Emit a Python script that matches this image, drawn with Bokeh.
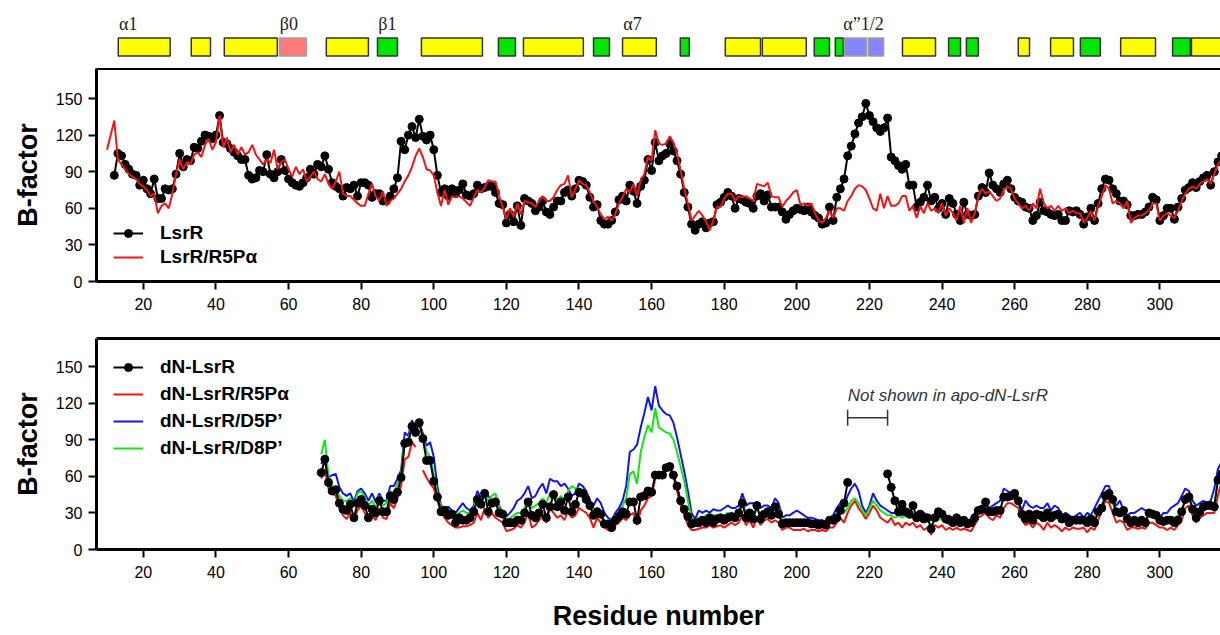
from bokeh.plotting import figure
from bokeh.models import Range1d, LinearAxis, FixedTicker, Legend, LegendItem
from bokeh.layouts import column
from bokeh.embed import file_html
from bokeh.resources import INLINE
from bokeh.core.properties import value

NaN = float("nan")

# ---------------- data ----------------
# top panel: full-length LsrR
lsrr_first = 12
lsrr = [
    87, 105, 103, 96, 92, 88, 87, 79,                      # 12-19
    83, 76, 72, 84, 68, 68, 76, 75, 76, 88,               # 20-29
    105, 94, 100, 99, 110, 109, 115, 120, 119, 117,       # 30-39
    120, 136, 114, 113, 109, 106, 103, 100, 100, 87,      # 40-49
    84, 85, 91, 90, 104, 88, 85, 90, 100, 91,             # 50-59
    84, 81, 79, 78, 81, 85, 92, 88, 96, 94,               # 60-69
    103, 92, 81, 78, 76, 70, 77, 76, 79, 70,              # 70-79
    81, 81, 79, 69, 72, 72, 66, 66, 70, 76,               # 80-89
    85, 115, 108, 120, 127, 118, 133, 119, 116, 120,      # 90-99
    108, 87, 73, 76, 70, 76, 72, 75, 80, 71,              # 100-109
    70, 72, 79, 76, 77, 78, 78, 73, 64, 63,               # 110-119
    48, 55, 49, 62, 46, 68, 66, 64, 58, 61,               # 120-129
    66, 57, 55, 61, 66, 66, 73, 75, 70, 76,               # 130-139
    83, 82, 79, 69, 61, 63, 50, 47, 47, 50,               # 140-149
    57, 67, 70, 66, 79, 74, 64, 78, 83, 100,              # 150-159
    91, 114, 99, 103, 105, 113, 107, 99, 88, 73,          # 160-169
    61, 47, 42, 47, 49, 44, 48, 49, 63, 65,               # 170-179
    69, 73, 70, 60, 68, 67, 65, 64, 60, 70,               # 180-189
    72, 66, 71, 61, 61, 61, 57, 51, 55, 58,               # 190-199
    60, 59, 58, 61, 57, 54, 52, 47, 48, 61,               # 200-209
    50, 69, 76, 84, 103, 111, 121, 130, 135, 146,         # 210-219
    136, 131, 126, 123, 126, 134, 102, 99, 95, 92,        # 220-229
    96, 79, 79, 61, 65, 69, 79, 66, 69, 60,               # 230-239
    64, 55, 68, 64, 55, 50, 65, 55, 54, 55,               # 240-249
    70, 77, 73, 89, 79, 76, 73, 80, 83, 76,               # 250-259
    69, 66, 65, 61, 60, 50, 54, 65, 58, 57,               # 260-269
    55, 54, 55, 50, 50, 58, 57, 58, 55, 47,               # 270-279
    53, 60, 50, 64, 76, 84, 83, 76, 72, 66,               # 280-289
    66, 63, 54, 54, 55, 55, 57, 61, 69, 67,               # 290-299
    50, 54, 60, 60, 51, 61, 68, 75, 77, 81,               # 300-309
    77, 82, 85, 87, 79, 90, 98, 103,                      # 310-317
]

lsrr_r5p_first = 10
lsrr_r5p = [
    108, 120, 132, 100, 96, 92, 88, 86, 84, 80,           # 10-19
    78, 75, 70, 72, 56, 62, 64, 60, 72, 88,               # 20-29
    100, 92, 98, 96, 104, 106, 102, 112, 117, 108,        # 30-39
    114, 136, 110, 118, 106, 112, 104, 110, 104, 106,     # 40-49
    112, 104, 100, 96, 100, 97, 108, 92, 98, 100,         # 50-59
    92, 86, 94, 88, 92, 82, 86, 90, 84, 82,               # 60-69
    88, 80, 76, 82, 90, 72, 70, 70, 67, 64,               # 70-79
    62, 62, 72, 80, 70, 66, 74, 62, 66, 68,               # 80-89
    72, 76, 82, 87, 94, 103, 109, 102, 92, 91,            # 90-99
    87, 73, 62, 75, 63, 70, 69, 70, 68, 65,               # 100-109
    62, 69, 75, 73, 77, 83, 82, 82, 70, 61,               # 110-119
    51, 60, 53, 64, 55, 66, 65, 64, 61, 66,               # 120-129
    70, 66, 66, 69, 75, 79, 80, 87, 69, 76,               # 130-139
    83, 80, 79, 73, 66, 61, 55, 51, 53, 50,               # 140-149
    55, 64, 69, 76, 73, 80, 70, 83, 88, 102,              # 150-159
    99, 124, 113, 112, 113, 119, 114, 105, 91, 76,        # 160-169
    64, 50, 54, 58, 54, 49, 42, 50, 61, 61,               # 170-179
    68, 72, 72, 66, 70, 69, 70, 68, 66, 80,               # 180-189
    79, 78, 81, 70, 69, 69, 61, 66, 69, 73,               # 190-199
    75, 63, 64, 62, 64, 56, 50, 48, 52, 58,               # 200-209
    52, 60, 60, 58, 66, 70, 76, 79, 78, 75,               # 210-219
    68, 60, 58, 72, 60, 70, 62, 62, 64, 70,               # 220-229
    70, 58, 62, 52, 62, 56, 64, 58, 60, 56,               # 230-239
    64, 54, 60, 56, 50, 62, 48, 60, 48, 56,               # 240-249
    70, 76, 72, 74, 70, 66, 68, 75, 78, 76,               # 250-259
    68, 64, 60, 62, 58, 64, 60, 76, 64, 60,               # 260-269
    62, 58, 62, 58, 60, 56, 58, 56, 56, 48,               # 270-279
    52, 58, 50, 62, 70, 79, 76, 64, 66, 64,               # 280-289
    60, 66, 48, 52, 54, 54, 56, 58, 64, 64,               # 290-299
    50, 54, 56, 54, 52, 58, 66, 72, 76, 78,               # 300-309
    76, 80, 82, 84, 80, 88, 96, 100,                      # 310-317
]

# bottom panel: N-terminally truncated LsrR (all series start at residue 69)
dn_first = 69
dn_lsrr = [
    63,                                                   # 69
    74, 55, 48, 49, 38, 33, 32, 37, 26, 38,               # 70-79
    41, 36, 26, 33, 30, 40, 31, 31, 44, 41,               # 80-89
    47, 59, 87, 88, 101, 96, 104, 91, 73, 73,             # 90-99
    56, 43, 31, 32, 28, 29, 22, 26, 24, 24,               # 100-109
    26, 31, 41, 37, 46, 31, 38, 39, 30, 29,               # 110-119
    22, 22, 22, 24, 24, 30, 39, 28, 26, 30,               # 120-129
    37, 26, 35, 45, 35, 39, 32, 43, 31, 37,               # 130-139
    47, 46, 41, 36, 28, 31, 29, 21, 21, 18,               # 140-149
    24, 27, 31, 29, 39, 39, 24, 43, 44, 48,               # 150-159
    47, 61, 61, 61, 67, 68, 61, 52, 40, 33,               # 160-169
    27, 21, 22, 22, 24, 22, 26, 22, 25, 26,               # 170-179
    24, 26, 27, 26, 30, 38, 26, 30, 25, 36,               # 180-189
    25, 29, 31, 28, 35, 29, 21, 22, 22, 22,               # 190-199
    22, 22, 22, 22, 21, 21, 20, 21, 20, 24,               # 200-209
    24, 26, 32, 38, 55, NaN, NaN, NaN, NaN, NaN,          # 210-219
    NaN, NaN, NaN, NaN, NaN, 62, 51, 40, 31, 37,          # 220-229
    31, 29, 36, 26, 29, 25, 26, 17, 26, 31,               # 230-239
    29, 25, 24, 22, 26, 22, 24, 21, 22, 26,               # 240-249
    32, 33, 39, 31, 31, 32, 32, 43, 43, 44,               # 250-259
    46, 40, 29, 25, 29, 24, 29, 28, 26, 30,               # 260-269
    26, 28, 29, 25, 26, 22, 24, 24, 24, 24,               # 270-279
    22, 25, 22, 31, 34, 44, 46, 41, 31, 30,               # 280-289
    32, 25, 22, 24, 22, 24, 22, 30, 29, 28,               # 290-299
    24, 23, 24, 24, 22, 24, 31, 41, 43, 33,               # 300-309
    26, 31, 35, 36, 36, 35, 57, 62,                       # 310-317
]

dn_r5p = [
    58,                                                   # 69
    66, 50, 46, 44, 34, 28, 25, 30, 24, 32,               # 70-79
    36, 30, 24, 28, 24, 34, 26, 25, 38, 34,               # 80-89
    42, 52, 74, 76, 88, 84, NaN, 65, 59, 54,              # 90-99
    50, 40, 30, 26, 22, 20, 18, 18, 19, 19,               # 100-109
    20, 22, 30, 24, 34, 26, 30, 26, 24, 22,               # 110-119
    15, 16, 17, 20, 18, 22, 30, 18, 20, 24,               # 120-129
    28, 22, 34, 30, 26, 28, 24, 32, 26, 28,               # 130-139
    34, 32, 30, 26, 18, 26, 22, 18, 16, 15,               # 140-149
    20, 22, 26, 24, 28, 30, 20, 32, 36, 42,               # 150-159
    44, 58, 60, 58, 66, 66, 60, 48, 36, 28,               # 160-169
    20, 16, 16, 17, 18, 18, 20, 18, 19, 20,               # 170-179
    18, 20, 22, 20, 22, 28, 20, 24, 18, 26,               # 180-189
    20, 24, 25, 22, 24, 22, 16, 18, 18, 16,               # 190-199
    16, 16, 17, 15, 16, 16, 15, 16, 15, 18,               # 200-209
    18, 22, 26, 22, 30, 36, 40, 34, 30, 25,               # 210-219
    30, 36, 32, 26, 24, 22, 26, 20, 22, 18,               # 220-229
    22, 20, 22, 18, 20, 16, 18, 12, 20, 18,               # 230-239
    20, 16, 18, 16, 18, 16, 17, 16, 15, 20,               # 240-249
    26, 28, 30, 26, 24, 28, 26, 34, 38, 38,               # 250-259
    36, 34, 24, 20, 22, 18, 22, 20, 16, 22,               # 260-269
    18, 20, 18, 15, 18, 16, 18, 17, 17, 18,               # 270-279
    14, 18, 16, 24, 32, 40, 38, 30, 22, 24,               # 280-289
    22, 16, 18, 18, 17, 18, 17, 22, 22, 20,               # 290-299
    18, 18, 16, 18, 16, 20, 24, 34, 36, 28,               # 300-309
    22, 26, 28, 30, 30, 30, 44, 56,                       # 310-317
]

dn_d5p = [
    70,                                                   # 69
    76, 59, 61, 62, 51, 46, 44, 46, 39, 48,               # 70-79
    50, 46, 40, 46, 39, 46, 40, 40, 52, 52,               # 80-89
    58, 65, 96, 93, 106, 98, 104, 95, 85, 88,             # 90-99
    76, 52, 36, 34, 35, 32, 30, 34, 38, 34,               # 100-109
    32, 36, 48, 42, 48, 44, 40, 42, 36, 30,               # 110-119
    27, 30, 34, 40, 42, 46, 52, 42, 44, 50,               # 120-129
    54, 46, 58, 56, 56, 52, 54, 50, 44, 46,               # 130-139
    54, 52, 48, 40, 36, 42, 38, 30, 26, 24,               # 140-149
    30, 34, 40, 52, 80, 82, 86, 100, 112, 125,            # 150-159
    114, 134, 118, 114, 111, 110, 104, 92, 78, 64,        # 160-169
    48, 30, 25, 32, 30, 32, 30, 33, 32, 32,               # 170-179
    34, 36, 34, 34, 36, 46, 36, 38, 38, 36,               # 180-189
    34, 36, 36, 34, 42, 38, 26, 28, 28, 30,               # 190-199
    32, 30, 28, 26, 26, 25, 24, 24, 22, 26,               # 200-209
    28, 34, 38, 36, 44, 50, 54, 48, 36, 30,               # 210-219
    36, 46, 40, 36, 34, 32, 30, 30, 32, 28,               # 220-229
    32, 30, 28, 30, 26, 30, 28, 26, 28, 30,               # 230-239
    30, 26, 28, 24, 28, 26, 24, 24, 22, 30,               # 240-249
    34, 36, 38, 34, 36, 38, 40, 50, 48, 46,               # 250-259
    48, 40, 32, 40, 36, 34, 36, 34, 34, 38,               # 260-269
    32, 36, 34, 28, 30, 28, 26, 28, 30, 26,               # 270-279
    30, 28, 34, 40, 46, 52, 52, 40, 36, 40,               # 280-289
    32, 28, 30, 30, 32, 34, 32, 30, 30, 28,               # 290-299
    26, 30, 30, 34, 36, 38, 44, 50, 48, 40,               # 300-309
    36, 38, 40, 38, 40, 50, 66, 72,                       # 310-317
]

dn_d8p = [
    78,                                                   # 69
    90, 60, 52, 50, 44, 40, 40, 42, 36, 46,               # 70-79
    48, 42, 36, 40, 34, 44, 36, 38, 48, 46,               # 80-89
    54, 62, 90, 90, 102, 96, 104, 92, 80, 76,             # 90-99
    62, 46, 34, 30, 32, 30, 28, 30, 32, 30,               # 100-109
    30, 34, 44, 40, 46, 40, 44, 46, 34, 32,               # 110-119
    24, 26, 28, 30, 30, 34, 42, 34, 36, 38,               # 120-129
    42, 38, 46, 48, 40, 44, 40, 48, 52, 50,               # 130-139
    50, 46, 40, 34, 30, 34, 30, 24, 22, 20,               # 140-149
    28, 30, 36, 42, 62, 64, 54, 80, 92, 102,              # 150-159
    96, 116, 100, 98, 96, 95, 90, 80, 68, 56,             # 160-169
    40, 26, 24, 26, 26, 28, 26, 28, 28, 26,               # 170-179
    28, 30, 28, 28, 30, 40, 30, 32, 28, 34,               # 180-189
    28, 30, 32, 30, 36, 32, 24, 24, 24, 24,               # 190-199
    24, 24, 23, 22, 22, 22, 22, 22, 21, 22,               # 200-209
    24, 28, 32, 30, 34, 40, 42, 38, 32, 28,               # 210-219
    34, 40, 36, 32, 30, 28, 28, 26, 28, 26,               # 220-229
    28, 26, 26, 26, 24, 26, 24, 20, 24, 24,               # 230-239
    26, 22, 24, 22, 24, 22, 22, 22, 20, 26,               # 240-249
    30, 32, 36, 30, 32, 32, 34, 42, 44, 42,               # 250-259
    42, 38, 28, 26, 28, 24, 28, 26, 24, 28,               # 260-269
    26, 28, 26, 24, 26, 22, 24, 24, 24, 24,               # 270-279
    22, 24, 24, 30, 36, 46, 44, 38, 30, 30,               # 280-289
    28, 24, 24, 24, 24, 24, 24, 28, 28, 26,               # 290-299
    24, 24, 24, 26, 26, 28, 32, 42, 44, 36,               # 300-309
    30, 34, 36, 38, 38, 38, 58, 66,                       # 310-317
]

# secondary-structure elements (residue spans) and their kind
ss_start = [13.1, 33.2, 42.3, 57.5, 70.4, 84.5, 96.6, 117.8, 124.7, 144.0,
            152.0, 167.9, 180.3, 190.5, 204.8, 210.6, 213.1, 219.7, 229.1,
            241.8, 246.7, 261.0, 269.9, 278.1, 289.2, 303.5, 308.7]
ss_end = [27.4, 38.5, 56.9, 64.9, 82.0, 90.0, 113.4, 122.5, 141.2, 148.4,
          161.3, 170.4, 190.0, 202.6, 209.0, 212.8, 219.2, 223.9, 238.2,
          245.1, 250.0, 264.1, 276.2, 283.6, 298.8, 308.4, 322.0]
ss_kind = ["helix", "helix", "helix", "beta0", "helix", "strand", "helix",
           "strand", "helix", "strand", "helix", "strand", "helix", "helix",
           "strand", "strand", "alt", "alt", "helix", "strand", "strand",
           "helix", "helix", "strand", "helix", "strand", "helix"]
ss_labels = ["\u03b11", "\u03b20", "\u03b21", "\u03b17", "\u03b1\u201d1/2"]
ss_label_at = [13.3, 57.6, 84.7, 152.2, 212.8]

x_ticks = [20, 40, 60, 80, 100, 120, 140, 160, 180, 200, 220, 240, 260, 280, 300]
y_ticks = [0, 30, 60, 90, 120, 150]

# ---------------- styling ----------------
FILL = {"helix": "#ffff00", "strand": "#00e600", "beta0": "#ff7b7b", "alt": "#8585ff"}
EDGE = {"helix": "#333333", "strand": "#333333", "beta0": "#a0a0a0", "alt": "#a0a0a0"}
SANS = "Liberation Sans"
C_BLACK, C_RED, C_BLUE, C_GREEN = "#000000", "#f01414", "#1414f0", "#14e614"

X0, X1 = 7.1, 316.7
xr = Range1d(X0, X1)
FRAME_W = 1124
LEFT = 96


def res(first, vals):
    return list(range(first, first + len(vals)))


# ---- secondary structure strip ----
ss = figure(frame_width=FRAME_W, frame_height=68, x_range=xr, y_range=Range1d(0, 68),
            min_border_left=LEFT, min_border_right=0, min_border_top=0, min_border_bottom=0,
            x_axis_location=None, y_axis_location=None, outline_line_color=None,
            output_backend="svg", toolbar_location=None)
ss.grid.visible = False
ss.quad(left=ss_start, right=ss_end, bottom=12.5, top=30.5,
        fill_color=[FILL[k] for k in ss_kind], line_color=[EDGE[k] for k in ss_kind],
        line_width=1.5)
ss.text(x=ss_label_at, y=[45] * len(ss_labels), text=ss_labels,
        text_font=value("Liberation Serif"), text_font_size="18px",
        text_baseline="alphabetic", text_align="left", text_color="#222222")


def style_panel(p, xlabel=None):
    p.grid.visible = False
    p.xaxis.ticker = FixedTicker(ticks=x_ticks)
    p.yaxis.ticker = FixedTicker(ticks=y_ticks)
    for ax in (p.xaxis[0], p.yaxis[0]):
        ax.axis_line_width = 3
        ax.axis_line_color = "black"
        ax.major_tick_out = 8
        ax.major_tick_in = 0
        ax.major_tick_line_width = 2
        ax.minor_tick_line_color = None
        ax.major_label_text_font = SANS
        ax.major_label_text_font_size = "16px"
        ax.major_label_text_color = "black"
        ax.major_label_standoff = 6
    p.yaxis.axis_label = "B-factor"
    p.yaxis.axis_label_text_font = SANS
    p.yaxis.axis_label_text_font_style = "bold"
    p.yaxis.axis_label_text_font_size = "27px"
    p.yaxis.axis_label_text_color = "black"
    p.yaxis.axis_label_standoff = 10
    p.xaxis.major_label_standoff = 8
    if xlabel:
        p.xaxis.axis_label = xlabel
        p.xaxis.axis_label_text_font = SANS
        p.xaxis.axis_label_text_font_style = "bold"
        p.xaxis.axis_label_text_font_size = "27px"
        p.xaxis.axis_label_text_color = "black"
        p.xaxis.axis_label_standoff = 20
    top = LinearAxis(ticker=FixedTicker(ticks=[]), major_label_text_font_size="0px",
                     major_tick_out=0, major_tick_in=0, minor_tick_out=0, minor_tick_in=0,
                     major_label_standoff=0, axis_line_width=3)
    p.add_layout(top, "above")


def make_legend(p, items, loc, spacing):
    lg = Legend(items=items, location=loc, glyph_width=30, glyph_height=20,
                label_height=20, label_standoff=17, spacing=spacing, padding=0, margin=0,
                border_line_color=None, background_fill_alpha=0,
                label_text_font=SANS, label_text_font_style="bold",
                label_text_font_size="19px", label_text_baseline="middle",
                label_text_color="black")
    p.add_layout(lg, "center")


# ---- top panel ----
p1 = figure(frame_width=FRAME_W, frame_height=213, x_range=xr, y_range=Range1d(0, 174.6),
            min_border_left=LEFT, min_border_right=0, min_border_top=0, min_border_bottom=41,
            outline_line_color=None, output_backend="svg", toolbar_location=None)
style_panel(p1)
xa = res(lsrr_first, lsrr)
b_line = p1.line(xa, lsrr, line_color=C_BLACK, line_width=2)
b_dots = p1.scatter(xa, lsrr, size=8, marker="circle", fill_color=C_BLACK, line_color=C_BLACK)
r_line = p1.line(res(lsrr_r5p_first, lsrr_r5p), lsrr_r5p, line_color=C_RED, line_width=2)
make_legend(p1, [LegendItem(label="LsrR", renderers=[b_line, b_dots]),
                 LegendItem(label="LsrR/R5P\u03b1", renderers=[r_line])], (17, 13), 2)

# ---- bottom panel ----
p2 = figure(frame_width=FRAME_W, frame_height=211, x_range=xr, y_range=Range1d(0, 173),
            min_border_left=LEFT, min_border_right=0, min_border_top=16, min_border_bottom=84,
            outline_line_color=None, output_backend="svg", toolbar_location=None)
style_panel(p2, "Residue number")
xb = res(dn_first, dn_lsrr)
l_red = p2.line(res(dn_first, dn_r5p), dn_r5p, line_color=C_RED, line_width=2)
l_blue = p2.line(res(dn_first, dn_d5p), dn_d5p, line_color=C_BLUE, line_width=2)
l_green = p2.line(res(dn_first, dn_d8p), dn_d8p, line_color=C_GREEN, line_width=2)
l_black = p2.line(xb, dn_lsrr, line_color=C_BLACK, line_width=2)
d_black = p2.scatter(xb, dn_lsrr, size=8, marker="circle", fill_color=C_BLACK, line_color=C_BLACK)
make_legend(p2, [LegendItem(label="dN-LsrR", renderers=[l_black, d_black]),
                 LegendItem(label="dN-LsrR/R5P\u03b1", renderers=[l_red]),
                 LegendItem(label="dN-LsrR/D5P\u2019", renderers=[l_blue]),
                 LegendItem(label="dN-LsrR/D8P\u2019", renderers=[l_green])], (17, 90), 5)

# annotation marking the residues missing from apo-dN-LsrR
shown = [r for r, v in zip(xb, dn_lsrr) if v == v]
gap_lo = max(r for r in shown if r < 220)
gap_hi = min(r for r in shown if r > 220)
BRACKET_Y, CAP = 108, 6.5
p2.segment(x0=[gap_lo], y0=[BRACKET_Y], x1=[gap_hi], y1=[BRACKET_Y], line_color="#333333", line_width=1.5)
p2.segment(x0=[gap_lo, gap_hi], y0=[BRACKET_Y - CAP] * 2, x1=[gap_lo, gap_hi], y1=[BRACKET_Y + CAP] * 2,
           line_color="#333333", line_width=1.5)
p2.text(x=[gap_lo], y=[126], text=["Not shown in apo-dN-LsrR"], text_font=value(SANS),
        text_font_style="italic", text_font_size="17px", text_color="#333333",
        text_baseline="alphabetic", text_align="left")

layout = column(ss, p1, p2, spacing=0)
open("out.html", "w").write(file_html(layout, INLINE))
